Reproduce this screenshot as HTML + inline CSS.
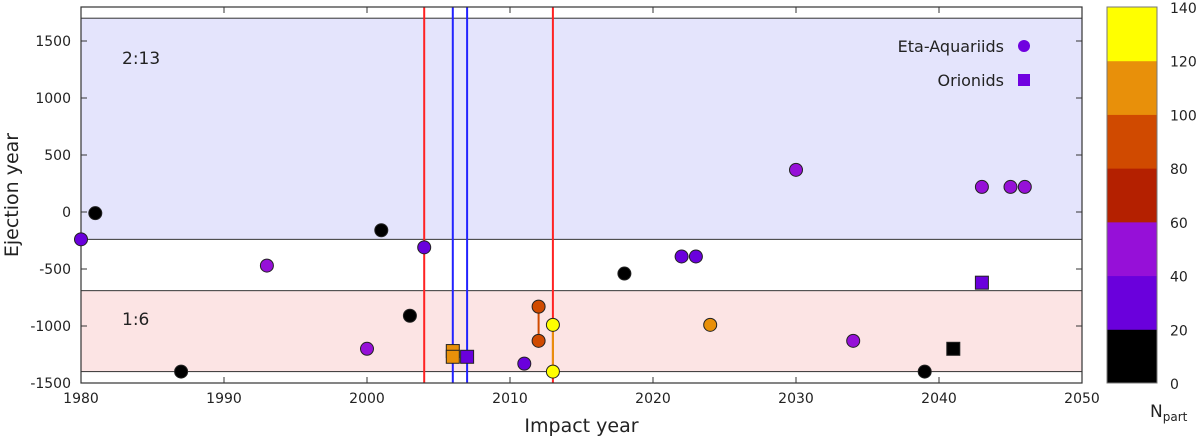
<!DOCTYPE html>
<html><head><meta charset="utf-8"><style>
body{margin:0;background:#fff;font-family:"DejaVu Sans","Liberation Sans",sans-serif}
svg text{font-family:"DejaVu Sans","Liberation Sans",sans-serif;fill:#222}
</style></head><body>
<svg id="c" width="1200" height="443"></svg>
<script>
const xTicks=[1980,1990,2000,2010,2020,2030,2040,2050];
const yTicks=[-1500,-1000,-500,0,500,1000,1500];
const cbTicks=[0,20,40,60,80,100,120,140];
const cbColors=["#000000","#6a00dc","#9610d8","#b42000","#d04a00","#e8900a","#ffff00"];
const etaX=[1980,1981,1987,1993,2000,2001,2003,2004,2011,2012,2012,2013,2013,2018,2022,2023,2024,2030,2034,2039,2043,2045,2046];
const etaY=[-240,-10,-1400,-470,-1200,-160,-910,-310,-1330,-830,-1130,-990,-1400,-540,-390,-390,-990,370,-1130,-1400,220,220,220];
const etaN=[30,5,5,50,50,5,5,30,30,90,90,130,130,5,30,30,110,50,50,5,50,50,50];
const oriX=[2006,2006,2007,2041,2043];
const oriY=[-1220,-1270,-1270,-1200,-620];
const oriN=[110,110,30,5,30];
const links=[[2012,-830,-1130,"#d04a00"],[2013,-990,-1400,"#e8900a"]];
const redLines=[2004,2013];
const blueLines=[2006,2007];
const bandBlue=[-240,1700];
const bandPink=[-1400,-690];
const X0=81,X1=1082,YB=383,YT=7;
const sx=v=>X0+(v-1980)*(X1-X0)/70;
const sy=v=>YB-(v+1500)*(YB-41)/3000;
const col=n=>cbColors[Math.min(6,Math.floor(n/20))];
const svg=document.getElementById('c');const NS="http://www.w3.org/2000/svg";
function mk(t,a,p){const e=document.createElementNS(NS,t);for(const k in a)e.setAttribute(k,a[k]);(p||svg).appendChild(e);return e;}
let e;
e=mk('rect',{x:X0,y:sy(bandBlue[1]),width:X1-X0,height:sy(bandBlue[0])-sy(bandBlue[1]),fill:'#e4e4fc',stroke:'#333','stroke-width':1});

e=mk('rect',{x:X0,y:sy(bandPink[1]),width:X1-X0,height:sy(bandPink[0])-sy(bandPink[1]),fill:'#fce4e4',stroke:'#333','stroke-width':1});

e=mk('text',{x:122,y:64,'font-size':17});e.textContent='2:13';

e=mk('text',{x:122,y:325,'font-size':17});e.textContent='1:6';

redLines.forEach(v=>{e=mk('line',{x1:sx(v),x2:sx(v),y1:YT,y2:YB,stroke:'#f22','stroke-width':2});
});
blueLines.forEach(v=>{e=mk('line',{x1:sx(v),x2:sx(v),y1:YT,y2:YB,stroke:'#22f','stroke-width':2});
});
e=mk('rect',{x:X0,y:YT,width:X1-X0,height:YB-YT,fill:'none',stroke:'#333','stroke-width':1.2});

xTicks.forEach(v=>{mk('line',{x1:sx(v),x2:sx(v),y1:YB,y2:YB-6,stroke:'#333'});mk('line',{x1:sx(v),x2:sx(v),y1:YT,y2:YT+6,stroke:'#333'});
e=mk('text',{x:sx(v),y:YB+20,'font-size':14,'text-anchor':'middle'});e.textContent=v;
});
yTicks.forEach(v=>{mk('line',{x1:X0,x2:X0+6,y1:sy(v),y2:sy(v),stroke:'#333'});mk('line',{x1:X1,x2:X1-6,y1:sy(v),y2:sy(v),stroke:'#333'});
e=mk('text',{x:71,y:sy(v)+5,'font-size':14,'text-anchor':'end'});e.textContent=v;
});
links.forEach(l=>{e=mk('line',{x1:sx(l[0]),x2:sx(l[0]),y1:sy(l[1]),y2:sy(l[2]),stroke:l[3],'stroke-width':2});
});
etaX.forEach((v,i)=>{e=mk('circle',{cx:sx(v),cy:sy(etaY[i]),r:6.5,fill:col(etaN[i]),stroke:'#222','stroke-width':1});
});
oriX.forEach((v,i)=>{e=mk('rect',{x:sx(v)-6.5,y:sy(oriY[i])-6.5,width:13,height:13,fill:col(oriN[i]),stroke:'#222','stroke-width':1});
});
e=mk('text',{x:1004,y:52,'font-size':16,'text-anchor':'end'});e.textContent='Eta-Aquariids';

mk('circle',{cx:1024,cy:46,r:6,fill:'#7000e0'});
e=mk('text',{x:1004,y:86,'font-size':16,'text-anchor':'end'});e.textContent='Orionids';

mk('rect',{x:1018,y:74,width:12,height:12,fill:'#7000e0'});
e=mk('text',{x:(X0+X1)/2,y:432,'font-size':19,'text-anchor':'middle'});e.textContent='Impact year';

e=mk('text',{x:18,y:195,'font-size':19,'text-anchor':'middle',transform:'rotate(-90 18 195)'});e.textContent='Ejection year';

const CB0=1107,CB1=1157,CT=7,CBt=383,seg=(CBt-CT)/7;
cbColors.forEach((c,i)=>{e=mk('rect',{x:CB0,y:CBt-(i+1)*seg,width:CB1-CB0,height:seg+0.5,fill:c});
});
mk('rect',{x:CB0,y:CT,width:CB1-CB0,height:CBt-CT,fill:'none',stroke:'#777'});
cbTicks.forEach((v,i)=>{const y=CBt-i*seg;e=mk('text',{x:1170,y:y+6,'font-size':14});e.textContent=v;
});
e=mk('text',{x:1150,y:417,'font-size':17});e.innerHTML='N<tspan font-size="12" dy="4">part</tspan>';

</script>
</body></html>
